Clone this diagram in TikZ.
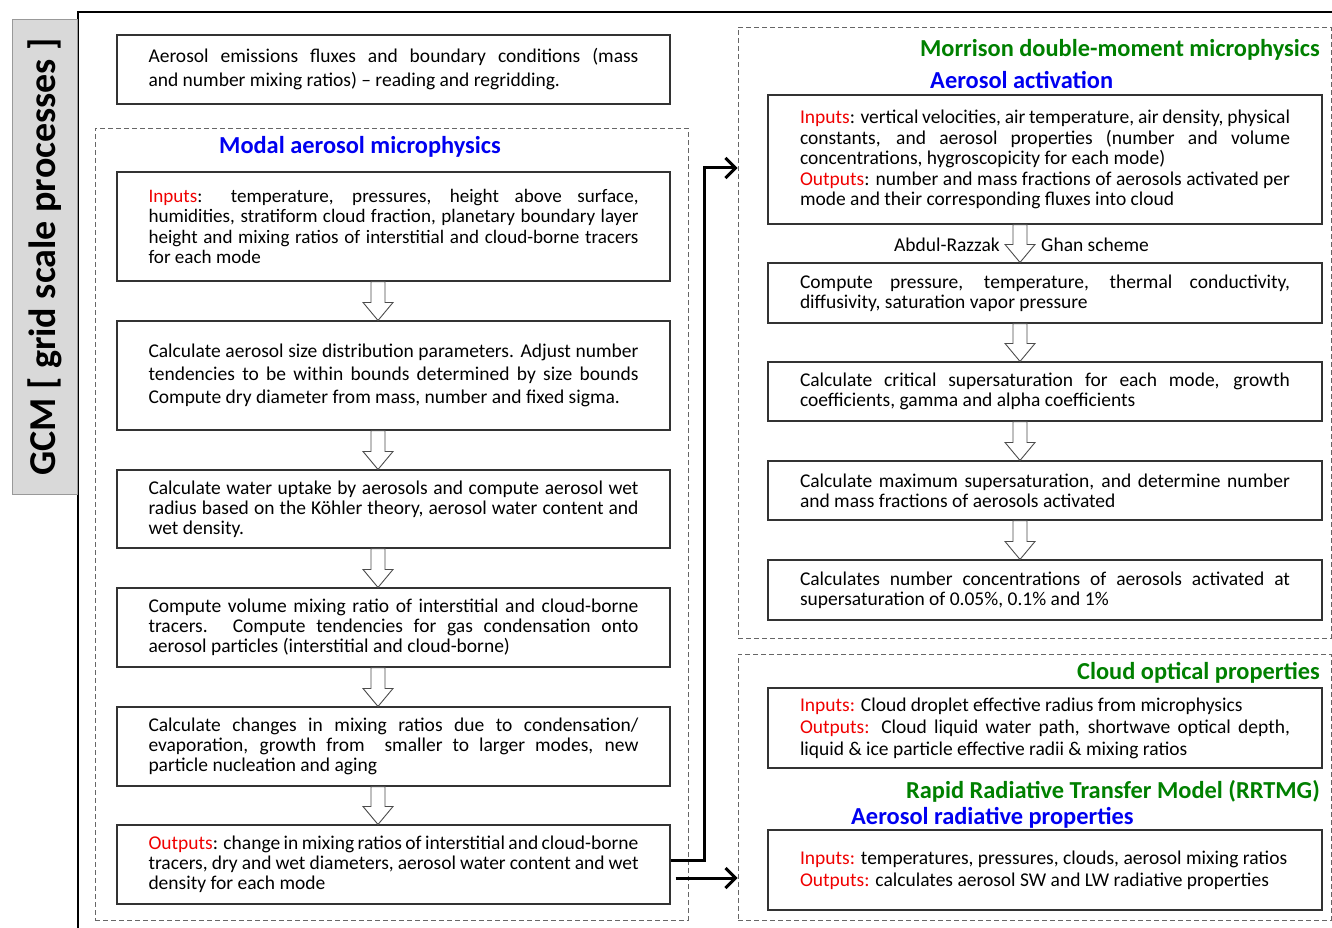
\documentclass[tikz,border=0pt]{standalone}
\usepackage{fontspec}
\setmainfont{Carlito}
\usetikzlibrary{arrows.meta,calc}
\definecolor{ttlblue}{RGB}{0,0,240}
\definecolor{ttlgreen}{RGB}{0,128,0}
\definecolor{inred}{RGB}{240,0,0}
\hyphenpenalty=10000
\exhyphenpenalty=10000
\tolerance=9999
\newcommand{\io}[1]{\textcolor{inred}{#1}}
\tikzset{
  box/.style={rectangle, draw=black!80, line width=1.1pt, fill=white, align=justify,
    text width=490pt, inner xsep=31.5pt, inner ysep=3pt, font=\fontsize{19.5}{19.8}\selectfont},
  rbox/.style={box, inner xsep=32pt},
  dbox/.style={rectangle, draw=black!60, line width=0.8pt, dash pattern=on 5pt off 3pt, inner sep=0pt},
  ttl/.style={font=\fontsize{24.4}{28}\selectfont\bfseries, inner sep=0pt},
  hollow/.style={draw=black!70, line width=0.9pt, fill=white},
  flow/.style={line width=3pt, -{Straight Barb[length=10pt,width=20pt]}},
}
\begin{document}
\begin{tikzpicture}[x=1pt, y=-1pt,
  gcm/.style={rectangle, draw=black!40, fill=black!15, line width=0.8pt, rotate=90,
              minimum width=475pt, minimum height=65pt, inner sep=0pt,
              font=\fontsize{38}{44}\selectfont\bfseries},
  lbl/.style={font=\fontsize{19.5}{19.8}\selectfont, inner sep=0pt},
]
\useasboundingbox (0,0) rectangle (1332,928);
% frame and side label
\draw[line width=1.1pt] (78,928) -- (78,12) -- (1332,12);
\node[gcm] at (44.5,257) (gcm) {GCM [ grid scale processes ]};
% dashed groups
\node[dbox, minimum width=593pt, minimum height=792pt] at (391.5,524) (modal) {};
\node[dbox, minimum width=593pt, minimum height=611pt] at (1034.5,332.5) (morr) {};
\node[dbox, minimum width=593pt, minimum height=266pt] at (1034.5,787) (rrt) {};
% titles
\node[ttl, text=ttlblue] at (360,147) (tmodal) {Modal aerosol microphysics};
\node[ttl, text=ttlgreen, anchor=east] at (1320,50) (tmorr) {Morrison double-moment microphysics};
\node[ttl, text=ttlblue, anchor=west] at (930,80) (tact) {Aerosol activation};
\node[ttl, text=ttlgreen, anchor=east] at (1320,673) (topt) {Cloud optical properties};
\node[ttl, text=ttlgreen, anchor=east] at (1320,791) (trrt) {Rapid Radiative Transfer Model (RRTMG)};
\node[ttl, text=ttlblue, anchor=west] at (851,818) (trad) {Aerosol radiative properties};
% left column
\node[box, minimum height=69pt, font=\fontsize{19.5}{24}\selectfont] at (393.5,69.5) (emis)
  {Aerosol emissions fluxes and boundary conditions (mass\linebreak and number mixing ratios) -- reading and regridding.};
\node[box, minimum height=109pt, font=\fontsize{19.1}{20.2}\selectfont] at (393.5,226.5) (b1)
  {\io{Inputs}: temperature, pressures, height above surface, humidities, stratiform cloud fraction, planetary boundary layer height and mixing ratios of interstitial and cloud-borne tracers for each mode};
\node[box, minimum height=109pt, font=\fontsize{19.5}{23}\selectfont] at (393.5,375.5) (b2)
  {Calculate aerosol size distribution parameters. Adjust number tendencies to be within bounds determined by size bounds Compute dry diameter from mass, number and fixed sigma.};
\node[box, minimum height=78pt] at (393.5,509) (b3)
  {Calculate water uptake by aerosols and compute aerosol wet radius based on the Köhler theory, aerosol water content and wet density.};
\node[box, minimum height=79pt] at (393.5,627.5) (b4)
  {Compute volume mixing ratio of interstitial and cloud-borne tracers. Compute tendencies for gas condensation onto aerosol particles (interstitial and cloud-borne)};
\node[box, minimum height=79pt] at (393.5,746.5) (b5)
  {Calculate changes in mixing ratios due to condensation/ evaporation, growth from \ smaller to larger modes, new particle nucleation and aging};
\node[box, minimum height=79pt] at (393.5,864.5) (b6)
  {\io{Outputs}: change in mixing ratios of interstitial and cloud-borne tracers, dry and wet diameters, aerosol water content and wet density for each mode};
% right column
\node[rbox, minimum height=129pt, font=\fontsize{19.5}{20.5}\selectfont] at (1045,159.5) (r1)
  {\io{Inputs}: vertical velocities, air temperature, air density, physical constants, and aerosol properties (number and volume concentrations, hygroscopicity for each mode)\newline
   \io{Outputs}: number and mass fractions of aerosols activated per mode and their corresponding fluxes into cloud};
\node[rbox, minimum height=60pt] at (1045,293) (r2)
  {Compute pressure, temperature, thermal conductivity, diffusivity, saturation vapor pressure};
\node[rbox, minimum height=59pt] at (1045,391.5) (r3)
  {Calculate critical supersaturation for each mode, growth coefficients, gamma and alpha coefficients};
\node[rbox, minimum height=59pt] at (1045,490.5) (r4)
  {Calculate maximum supersaturation, and determine number and mass fractions of aerosols activated};
\node[rbox, minimum height=60pt] at (1045,590) (r5)
  {Calculates number concentrations of aerosols activated at supersaturation of 0.05\%, 0.1\% and 1\%};
\node[rbox, minimum height=80pt, font=\fontsize{19.5}{22}\selectfont] at (1045,728) (r6)
  {\io{Inputs:} Cloud droplet effective radius from microphysics\newline
   \io{Outputs:} Cloud liquid water path, shortwave optical depth, liquid \& ice particle effective radii \& mixing ratios};
\node[rbox, minimum height=80pt, font=\fontsize{19.5}{22}\selectfont] at (1045,870) (r7)
  {\io{Inputs:} temperatures, pressures, clouds, aerosol mixing ratios\newline
   \io{Outputs:} calculates aerosol SW and LW radiative properties};
\node[lbl, anchor=east] at (1000,245) (ar) {Abdul-Razzak};
\node[lbl, anchor=west] at (1041,245) (gs) {Ghan scheme};
% hollow arrows
\foreach \a/\b/\dx in {b1/b2/-15.5, b2/b3/-15.5, b3/b4/-15.5, b4/b5/-15.5, b5/b6/-15.5,
                       r1/r2/-25, r2/r3/-25, r3/r4/-25, r4/r5/-25}
  \draw[hollow] let \p1=([xshift=\dx pt]\a.south), \p2=([xshift=\dx pt]\b.north) in
    (\x1-7pt,\y1) -- (\x1-7pt,\y2+18pt) -- (\x1-15pt,\y2+18pt) -- (\x1,\y2)
    -- (\x1+15pt,\y2+18pt) -- (\x1+7pt,\y2+18pt) -- (\x1+7pt,\y1) -- cycle;
% outputs to the cloud schemes
\coordinate (turn) at (704,168);
\coordinate (out2) at ([xshift=5pt,yshift=-13.5pt]b6.east);
\draw[flow] ([yshift=4.5pt]b6.east) -| (turn) -- (turn -| morr.west);
\draw[flow] (out2) -- (out2 -| rrt.west);
\end{tikzpicture}
\end{document}
